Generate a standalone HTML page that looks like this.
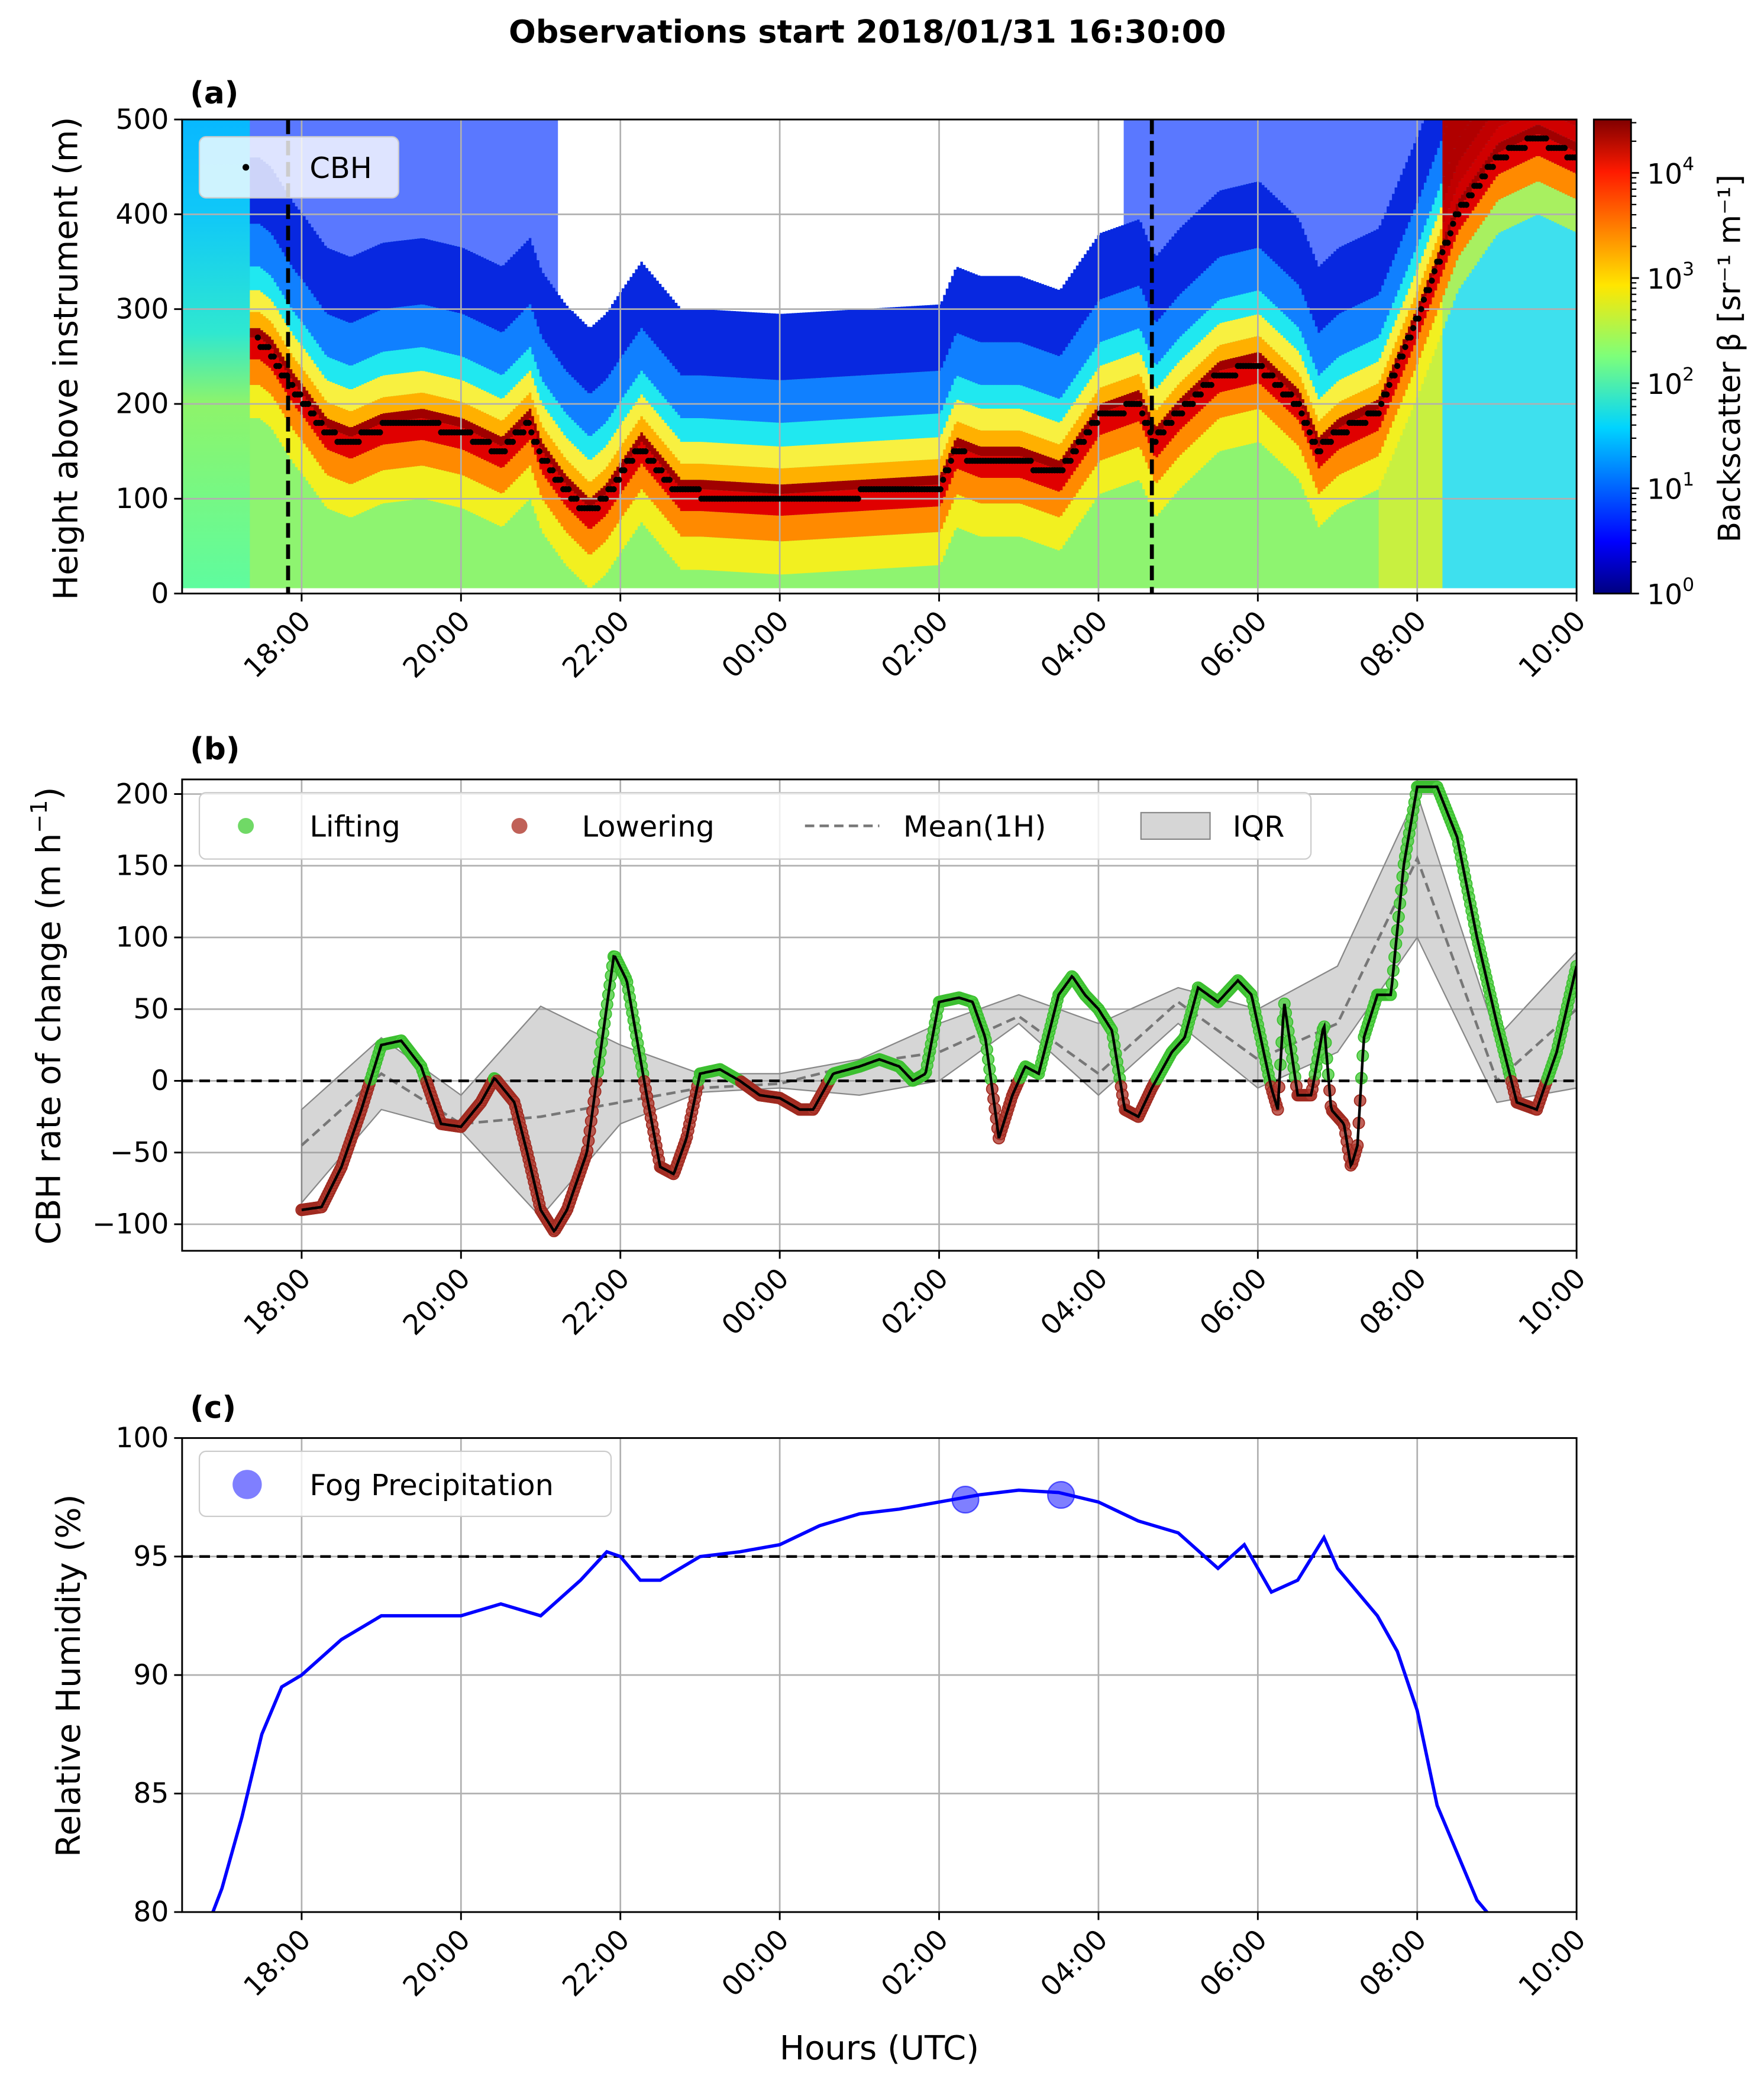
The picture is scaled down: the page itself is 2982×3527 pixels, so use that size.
<!DOCTYPE html>
<html><head><meta charset="utf-8"><style>
html,body{margin:0;padding:0;background:#fff}
svg{display:block;font-family:"DejaVu Sans","Liberation Sans",sans-serif}
</style></head><body>
<svg id="fig" width="2982" height="3527" viewBox="0 0 1328 1571" xmlns="http://www.w3.org/2000/svg">
<defs>
<linearGradient id="jet" x1="0" y1="1" x2="0" y2="0">
<stop offset="0" stop-color="#000080"/><stop offset="0.11" stop-color="#0000ff"/><stop offset="0.35" stop-color="#00d4ff"/><stop offset="0.5" stop-color="#7dff7a"/><stop offset="0.65" stop-color="#ffe600"/><stop offset="0.89" stop-color="#ff1a00"/><stop offset="1" stop-color="#800000"/>
</linearGradient>
<linearGradient id="leftbg" x1="0" y1="1" x2="0" y2="0">
<stop offset="0" stop-color="#5dfca0"/><stop offset="0.4" stop-color="#8ef46a"/><stop offset="0.55" stop-color="#2fe8d0"/><stop offset="0.8" stop-color="#10c8f8"/><stop offset="1" stop-color="#08b8ff"/>
</linearGradient>
<clipPath id="clipA"><rect x="137" y="90" width="1050" height="357"/></clipPath>
<clipPath id="clipB"><rect x="137" y="587" width="1050" height="355"/></clipPath>
<clipPath id="clipC"><rect x="137" y="1083" width="1050" height="357"/></clipPath>
</defs>
<text x="653" y="32" font-size="24" font-weight="bold" text-anchor="middle">Observations start 2018/01/31 16:30:00</text>
<g id="pa"></g>
<g id="pb"></g>
<g id="pc"></g>
</svg>
<script>
// ---- data ----
const xTickLabels = ["18:00","20:00","22:00","00:00","02:00","04:00","06:00","08:00","10:00"];
const xTickTimes = [18,20,22,24,26,28,30,32,34];
// panel a: cloud base height (m) vs clock time
const cbhTimes = [17.45,17.6,17.75,17.9,18.0,18.3,18.6,19.0,19.5,20.0,20.5,20.85,21.0,21.3,21.6,21.8,22.0,22.25,22.5,22.75,23.0,24.0,25.0,26.0,26.2,26.5,27.0,27.5,28.0,28.5,28.7,29.0,29.5,30.0,30.5,30.75,31.0,31.5,32.0,32.5,33.0,33.5,34.0];
const cbhValues = [265,255,235,215,205,170,160,175,180,170,150,180,145,110,85,100,125,155,130,105,105,100,105,110,150,140,140,125,185,200,160,190,230,240,200,150,170,190,290,400,460,480,460];
// panel b
const rateTimes = [18,18.25,18.5,18.75,19,19.25,19.5,19.75,20,20.25,20.42,20.67,20.83,21,21.17,21.33,21.58,21.75,21.92,22.08,22.33,22.5,22.67,22.83,23,23.25,23.5,23.75,24,24.25,24.42,24.67,25,25.25,25.5,25.67,25.83,26,26.25,26.42,26.58,26.75,26.92,27.08,27.25,27.5,27.67,27.83,28,28.17,28.33,28.5,28.67,28.92,29.08,29.25,29.5,29.75,29.92,30.17,30.25,30.33,30.5,30.67,30.83,30.92,31.08,31.17,31.25,31.33,31.5,31.67,31.83,32,32.25,32.5,32.75,33,33.25,33.5,33.75,34];
const rateValues = [-90,-88,-60,-20,25,28,10,-30,-32,-15,2,-15,-50,-90,-105,-90,-50,20,88,70,-10,-60,-65,-40,5,8,0,-10,-12,-20,-20,5,10,15,10,0,5,55,58,55,30,-40,-10,10,5,60,73,60,50,35,-20,-25,-5,20,30,65,55,70,60,-5,-20,55,-10,-10,40,-20,-30,-60,-45,30,60,60,150,205,205,170,100,40,-15,-20,20,80];
const meanTimes = [18,19,20,21,22,23,24,25,26,27,28,29,30,31,32,33,34];
const meanValues = [-45,5,-30,-25,-15,-5,-2,12,20,45,5,55,15,40,155,0,50];
const iqrUpper = [-20,30,-10,52,25,5,5,15,40,60,40,65,50,80,200,30,90];
const iqrLower = [-85,-20,-35,-95,-30,-8,-5,-10,0,40,-10,40,-5,20,100,-15,-5];
// panel c
const rhTimes = [16.83,17,17.25,17.5,17.75,18,18.5,19,19.5,20,20.5,21,21.5,21.83,22,22.25,22.5,22.75,23,23.5,24,24.5,25,25.5,26,26.5,27,27.5,28,28.5,29,29.5,29.83,30.17,30.5,30.83,31,31.5,31.75,32,32.25,32.5,32.75,33];
const rhValues = [79.5,81,84,87.5,89.5,90,91.5,92.5,92.5,92.5,93,92.5,94,95.2,95,94,94,94.5,95,95.2,95.5,96.3,96.8,97,97.3,97.6,97.8,97.7,97.3,96.5,96,94.5,95.5,93.5,94,95.8,94.5,92.5,91,88.5,84.5,82.5,80.5,79.5];
const fogTimes = [26.33,27.53];
const fogValues = [97.4,97.6];

// ---- helpers ----
const NS="http://www.w3.org/2000/svg";
function mk(parent,tag,attrs,text){const e=document.createElementNS(NS,tag);for(const k in attrs)e.setAttribute(k,attrs[k]);if(text!==undefined)e.textContent=text;parent.appendChild(e);return e;}
const X0=137,X1=1187;
function xs(t){return X0+(t-16.5)*60;}
function interp(ts,vs,t){if(t<=ts[0])return vs[0];for(let i=1;i<ts.length;i++){if(t<=ts[i]){const f=(t-ts[i-1])/(ts[i]-ts[i-1]);return vs[i-1]+f*(vs[i]-vs[i-1]);}}return vs[vs.length-1];}

function axesFrame(g,top,bot,name){
  const xt=mk(g,'g',{});
  
  
  xTickTimes.forEach((t,i)=>{
    const x=xs(t);
    mk(xt,'line',{x1:x,x2:x,y1:bot,y2:bot+6,stroke:'#000','stroke-width':1.3});
    const lab=mk(xt,'text',{x:0,y:0,'font-size':21,'text-anchor':'end',transform:`translate(${x+8},${bot+22}) rotate(-45)`},xTickLabels[i]);
    
    
  });
}
function gridX(g,top,bot){xTickTimes.forEach(t=>{const x=xs(t);mk(g,'line',{x1:x,x2:x,y1:top,y2:bot,stroke:'#b0b0b0','stroke-width':1.2});});}
function yAxis(g,ticks,labels,ys,name,grid){
  ticks.forEach((v,i)=>{const y=ys(v);
    if(grid)mk(g,'line',{x1:X0,x2:X1,y1:y,y2:y,stroke:'#b0b0b0','stroke-width':1.2});
    mk(g,'line',{x1:X0-6,x2:X0,y1:y,y2:y,stroke:'#000','stroke-width':1.3});
    const lab=mk(g,'text',{x:X0-10,y:y+7,'font-size':21,'text-anchor':'end'},labels[i]);
    
    
  });
}

// ---- panel a ----
(function(){
  const g=document.getElementById('pa');
  const top=90,bot=447;
  const ys=v=>bot-v*(357/500);
  const hm=mk(g,'g',{'clip-path':'url(#clipA)'});
  
  
  mk(hm,'rect',{x:X0,y:top,width:1050,height:357,fill:'url(#leftbg)'});
  const start=cbhTimes[0]-0.1;
  for(let x=xs(start);x<X1;x+=2){
    const t=16.5+(x-X0)/60;
    const c=interp(cbhTimes,cbhValues,t);
    const late=t>32.3;
    const low=late?'#3ee0ee':(t>31.5?'#c8f040':'#8ef470');
    const topc=(t<21.2||t>28.3)?'#5a78ff':'#ffffff';
    const bands=[[0,c-80,low],[c-80,c-45,late?'#a8f060':'#f2f020'],[c-45,c-18,'#ff8a00'],[c-18,c+5,'#e00000'],[c+5,c+15,'#a00000'],[c+15,c+32,late?'#d00000':'#ffb000'],[c+32,c+55,late?'#c00000':'#f8f040'],[c+55,c+80,late?'#b00000':'#20e8f0'],[c+80,c+125,late?'#b00000':'#1080ff'],[c+125,c+195,late?'#b00000':'#0828e0'],[c+195,600,late?'#a00000':topc]];
    bands.forEach(b=>{const y1=ys(Math.min(b[1],520)),y0=ys(Math.max(b[0],0));if(y0>y1)mk(hm,'rect',{x:x,y:y1,width:2.2,height:y0-y1,fill:b[2]});});
  }
  mk(hm,'rect',{x:X0,y:bot-4,width:1050,height:4,fill:'#fff'});
  gridX(g,top,bot);
  yAxis(g,[0,100,200,300,400,500],['0','100','200','300','400','500'],ys,'panel-a',true);
  const dots=mk(g,'g',{'clip-path':'url(#clipA)'});
  
  
  for(let t=cbhTimes[0];t<=34;t+=1/30){
    const c=Math.round(interp(cbhTimes,cbhValues,t)/10)*10;
    mk(dots,'circle',{cx:xs(t),cy:ys(c),r:2.3,fill:'#000'});
  }
  [17.83,28.67].forEach(t=>{const l=mk(g,'line',{x1:xs(t),x2:xs(t),y1:top,y2:bot,stroke:'#000','stroke-width':3,'stroke-dasharray':'11,5'});
    
    });
  mk(g,'rect',{x:X0,y:top,width:1050,height:357,fill:'none',stroke:'#000','stroke-width':1.3});
  axesFrame(g,top,bot,'panel-a');
  mk(g,'text',{x:143,y:78,'font-size':23,'font-weight':'bold'},'(a)');
  const yl=mk(g,'text',{x:0,y:0,'font-size':25,'text-anchor':'middle',transform:'translate(58,270) rotate(-90)'},'Height above instrument (m)');
  
  
  const lg=mk(g,'g',{});
  
  
  mk(lg,'rect',{x:150,y:103,width:150,height:46,rx:5,fill:'#fff','fill-opacity':0.8,stroke:'#ccc'});
  mk(lg,'circle',{cx:185,cy:126,r:2.5,fill:'#000'});
  mk(lg,'text',{x:233,y:134,'font-size':22},'CBH');
  const cb=mk(g,'g',{});
  
  
  mk(cb,'rect',{x:1200,y:90,width:28,height:357,fill:'url(#jet)',stroke:'#000','stroke-width':1.3});
  for(let d=0;d<=4;d++){const y=447-d*79.2;
    mk(cb,'line',{x1:1228,x2:1234,y1:y,y2:y,stroke:'#000','stroke-width':1.3});
    const tx=mk(cb,'text',{x:1240,y:y+8,'font-size':21},'10');
    mk(tx,'tspan',{dy:-10,'font-size':14},String(d));
    for(let m=2;m<10&&d<4||(d===4&&m<4);m++){const yy=y-Math.log10(m)*79.2;mk(cb,'line',{x1:1228,x2:1232,y1:yy,y2:yy,stroke:'#000','stroke-width':1});}
  }
  const ct=mk(cb,'text',{x:0,y:0,'font-size':23,'text-anchor':'middle',transform:'translate(1310,270) rotate(-90)'},'Backscatter β [sr⁻¹ m⁻¹]');
  
  
})();

// ---- panel b ----
(function(){
  const g=document.getElementById('pb');
  const top=587,bot=942,zero=814,k=1.08;
  const ys=v=>zero-v*k;
  gridX(g,top,bot);
  yAxis(g,[-100,-50,0,50,100,150,200],['−100','−50','0','50','100','150','200'],ys,'panel-b',true);
  const cl=mk(g,'g',{'clip-path':'url(#clipB)'});
  let d='';meanTimes.forEach((t,i)=>{d+=(i?'L':'M')+xs(t)+','+ys(iqrUpper[i]);});
  for(let i=meanTimes.length-1;i>=0;i--)d+='L'+xs(meanTimes[i])+','+ys(iqrLower[i]);
  const iqr=mk(cl,'path',{d:d+'Z',fill:'#999','fill-opacity':0.4,stroke:'#888','stroke-width':1});
  
  
  let dm='';meanTimes.forEach((t,i)=>{dm+=(i?'L':'M')+xs(t)+','+ys(meanValues[i]);});
  const mean=mk(cl,'path',{d:dm,fill:'none',stroke:'#777','stroke-width':2,'stroke-dasharray':'7,4'});
  
  
  mk(cl,'line',{x1:X0,x2:X1,y1:zero,y2:zero,stroke:'#000','stroke-width':2,'stroke-dasharray':'8,5'});
  const pts=mk(cl,'g',{});
  
  
  let dl='';
  for(let t=rateTimes[0];t<=34.001;t+=1/60){
    const v=interp(rateTimes,rateValues,t);
    mk(pts,'circle',{cx:xs(t),cy:ys(v),r:4.3,fill:v>=0?'#4ccf40':'#b03a2e','fill-opacity':0.8,stroke:v>=0?'#3cbf30':'#a02a20','stroke-width':0.8});
    dl+=(dl?'L':'M')+xs(t).toFixed(1)+','+ys(v).toFixed(1);
  }
  const ln=mk(cl,'path',{d:dl,fill:'none',stroke:'#000','stroke-width':2});
  
  
  mk(g,'rect',{x:X0,y:top,width:1050,height:355,fill:'none',stroke:'#000','stroke-width':1.3});
  axesFrame(g,top,bot,'panel-b');
  mk(g,'text',{x:143,y:572,'font-size':23,'font-weight':'bold'},'(b)');
  const yl=mk(g,'text',{x:0,y:0,'font-size':25,'text-anchor':'middle',transform:'translate(45,765) rotate(-90)'},'CBH rate of change (m h');
  mk(yl,'tspan',{dy:-10,'font-size':17},'−1');
  mk(yl,'tspan',{dy:10},')');
  
  
  const lg=mk(g,'g',{});
  
  
  mk(lg,'rect',{x:150,y:597,width:837,height:50,rx:5,fill:'#fff','fill-opacity':0.8,stroke:'#ccc'});
  mk(lg,'circle',{cx:185,cy:622,r:6,fill:'#4ccf40','fill-opacity':0.8});
  mk(lg,'text',{x:233,y:630,'font-size':22},'Lifting');
  mk(lg,'circle',{cx:391,cy:622,r:6,fill:'#b03a2e','fill-opacity':0.8});
  mk(lg,'text',{x:438,y:630,'font-size':22},'Lowering');
  mk(lg,'line',{x1:606,x2:662,y1:622,y2:622,stroke:'#777','stroke-width':2,'stroke-dasharray':'7,4'});
  mk(lg,'text',{x:680,y:630,'font-size':22},'Mean(1H)');
  mk(lg,'rect',{x:859,y:612,width:52,height:20,fill:'#999','fill-opacity':0.4,stroke:'#888'});
  mk(lg,'text',{x:928,y:630,'font-size':22},'IQR');
})();

// ---- panel c ----
(function(){
  const g=document.getElementById('pc');
  const top=1083,bot=1440;
  const ys=v=>bot-(v-80)*(357/20);
  gridX(g,top,bot);
  yAxis(g,[80,85,90,95,100],['80','85','90','95','100'],ys,'panel-c',true);
  const cl=mk(g,'g',{'clip-path':'url(#clipC)'});
  mk(cl,'line',{x1:X0,x2:X1,y1:ys(95),y2:ys(95),stroke:'#000','stroke-width':2,'stroke-dasharray':'8,5'});
  let d='';rhTimes.forEach((t,i)=>{d+=(i?'L':'M')+xs(t)+','+ys(rhValues[i]);});
  const ln=mk(cl,'path',{d:d,fill:'none',stroke:'#0000ff','stroke-width':2.5});
  
  
  fogTimes.forEach((t,i)=>{const c=mk(cl,'circle',{cx:xs(t),cy:ys(fogValues[i]),r:10,fill:'#0000ff','fill-opacity':0.5,stroke:'#0000ff','stroke-opacity':0.6});
    
    });
  mk(g,'rect',{x:X0,y:top,width:1050,height:357,fill:'none',stroke:'#000','stroke-width':1.3});
  axesFrame(g,top,bot,'panel-c');
  mk(g,'text',{x:143,y:1068,'font-size':23,'font-weight':'bold'},'(c)');
  const yl=mk(g,'text',{x:0,y:0,'font-size':25,'text-anchor':'middle',transform:'translate(60,1262) rotate(-90)'},'Relative Humidity (%)');
  
  
  const xl=mk(g,'text',{x:662,y:1551,'font-size':25,'text-anchor':'middle'},'Hours (UTC)');
  
  
  const lg=mk(g,'g',{});
  
  
  mk(lg,'rect',{x:150,y:1093,width:310,height:49,rx:5,fill:'#fff','fill-opacity':0.8,stroke:'#ccc'});
  mk(lg,'circle',{cx:186,cy:1118,r:11,fill:'#0000ff','fill-opacity':0.5});
  mk(lg,'text',{x:233,y:1126,'font-size':22},'Fog Precipitation');
})();
</script>
</body></html>
